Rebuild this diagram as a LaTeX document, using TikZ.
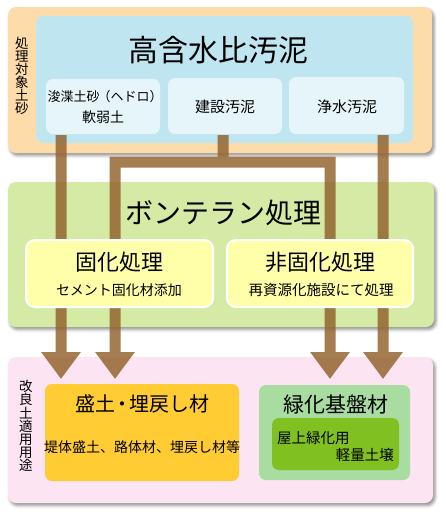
\documentclass[tikz,border=0pt]{standalone}
\usepackage{fontspec}
\setmainfont{Noto Sans CJK JP}
\usetikzlibrary{arrows.meta,shadows.blur}
\definecolor{cOrange}{HTML}{FDDCAA}
\definecolor{cBlue}{HTML}{BEE5F0}
\definecolor{cSub}{HTML}{E6F5FA}
\definecolor{cGreen}{HTML}{D5EBA5}
\definecolor{cYellow}{HTML}{FFFFAA}
\definecolor{cPink}{HTML}{FCE4F2}
\definecolor{cGold}{HTML}{FFCC33}
\definecolor{cLGreen}{HTML}{A8DCA0}
\definecolor{cDGreen}{HTML}{80C020}
\definecolor{cBrown}{HTML}{946631}
\newcommand{\fs}[1]{\fontsize{#1}{#1}\selectfont}
\newcommand{\vlabfont}{\fontsize{13.5}{13.1}\selectfont\lineskiplimit -6pt\relax}
\tikzset{
  panel/.style={rounded corners=8pt, draw=none, blur shadow={shadow xshift=2pt, shadow yshift=-2.5pt, shadow blur radius=3pt, shadow opacity=45}},
  box/.style={rounded corners=7pt, draw=none},
  txt/.style={inner sep=0pt, align=center},
  vlab/.style={inner sep=0pt, align=center, font=\vlabfont},
  flow/.style={draw=cBrown, line width=11pt, line join=miter},
  tip/.style={-{Triangle[width=38pt,length=27pt]}},
}
\begin{document}
\begin{tikzpicture}[x=1pt,y=-1pt]
\useasboundingbox (0,0) rectangle (445,514);
% top panel
\draw[panel, fill=cOrange] (8,7) rectangle (432,153);
\node[vlab] (lab1) at (22,76) {処\\理\\対\\象\\土\\砂};
\fill[box, fill=cBlue] (36,16) rectangle (413,143);
\node[txt, font=\fs{30}] (t1) at (218,50) {高含水比汚泥};
\fill[box, fill=cSub] (46,79) rectangle (160,134);
\fill[box, fill=cSub] (168,78) rectangle (282,134);
\fill[box, fill=cSub] (289,77) rectangle (404,134);
\node (s1) at (103,106) [minimum width=114pt, minimum height=55pt] {};
\node (s2) at (225,106) [minimum width=114pt, minimum height=56pt] {};
\node (s3) at (346,105) [minimum width=115pt, minimum height=57pt] {};
\node[txt, font=\fs{13}] (s1a) at (104,97) {浚渫土砂\kern-2pt（ヘドロ）\kern-2pt};
\node[txt, font=\fs{14}] (s1b) at (103,117) {軟弱土};
\node[txt, font=\fs{15}] (s2a) at (225,107) {建設汚泥};
\node[txt, font=\fs{15}] (s3a) at (347,107) {浄水汚泥};
% middle panel
\draw[panel, fill=cGreen] (8,182) rectangle (434,327);
\node[txt, font=\fs{28}] (t2) at (223,213) {ボンテラン処理};
% bottom panel
\draw[panel, fill=cPink] (8,357) rectangle (433,503);
\node[vlab] (lab2) at (26,426) {改\\良\\土\\適\\用\\用\\途};
\fill[box, fill=cGold] (45,384) rectangle (239,481);
\node (b1) at (142,432.5) [minimum width=194pt, minimum height=97pt] {};
\node[txt, font=\fs{20}] (b1a) at (142,404) {盛土\kern-3pt・\kern-3pt 埋戻し材};
\node[txt, font=\fs{14}] (b1b) at (142,447) {堤体盛土、路体材、埋戻し材等};
\fill[box, fill=cLGreen] (259,385) rectangle (410,480);
\node (b2) at (334.5,432.5) [minimum width=151pt, minimum height=95pt] {};
\node[txt, font=\fs{21}] (b2a) at (336,404) {緑化基盤材};
\fill[box, fill=cDGreen] (272,418) rectangle (399,470);
\node[txt, anchor=west, font=\fs{14.5}] (b2b) at (277,438) {屋上緑化用};
\node[txt, anchor=east, font=\fs{14.5}] (b2c) at (394,455) {軽量土壌};
% flow arrows
\coordinate (a1) at (61,135);
\coordinate (a1e) at (61,379);
\coordinate (j0) at (223,135);
\coordinate (j1) at (223,160);
\coordinate (l1) at (115,162);
\coordinate (l2) at (115,379);
\coordinate (r1) at (330,162);
\coordinate (r2) at (330,379);
\coordinate (a4) at (383,135);
\coordinate (a4e) at (383,379);
\begin{scope}[transparency group, opacity=.85]
\draw[flow, tip] (a1) -- (a1e);
\draw[flow, tip] (a4) -- (a4e);
\draw[flow] (j0) -- (j1);
\draw[flow, {Triangle[width=38pt,length=27pt]}-{Triangle[width=38pt,length=27pt]}] (l2) -- (l1) -- (r1) -- (r2);
\end{scope}
% process boxes (over arrows)
\draw[rounded corners=9pt, draw=white, line width=2pt, fill=cYellow] (26,240) rectangle (213,307);
\draw[rounded corners=9pt, draw=white, line width=2pt, fill=cYellow] (227,240) rectangle (413,307);
\node (p1) at (119.5,273.5) [minimum width=187pt, minimum height=67pt] {};
\node (p2) at (320,273.5) [minimum width=186pt, minimum height=67pt] {};
\node[txt, font=\fs{22}] (p1a) at (119,262) {固化処理};
\node[txt, font=\fs{14}] (p1b) at (119,290) {セメント固化材添加};
\node[txt, font=\fs{22}] (p2a) at (320,262) {非固化処理};
\node[txt, font=\fs{14.5}] (p2b) at (321,290) {再資源化施設にて処理};
\end{tikzpicture}
\end{document}
